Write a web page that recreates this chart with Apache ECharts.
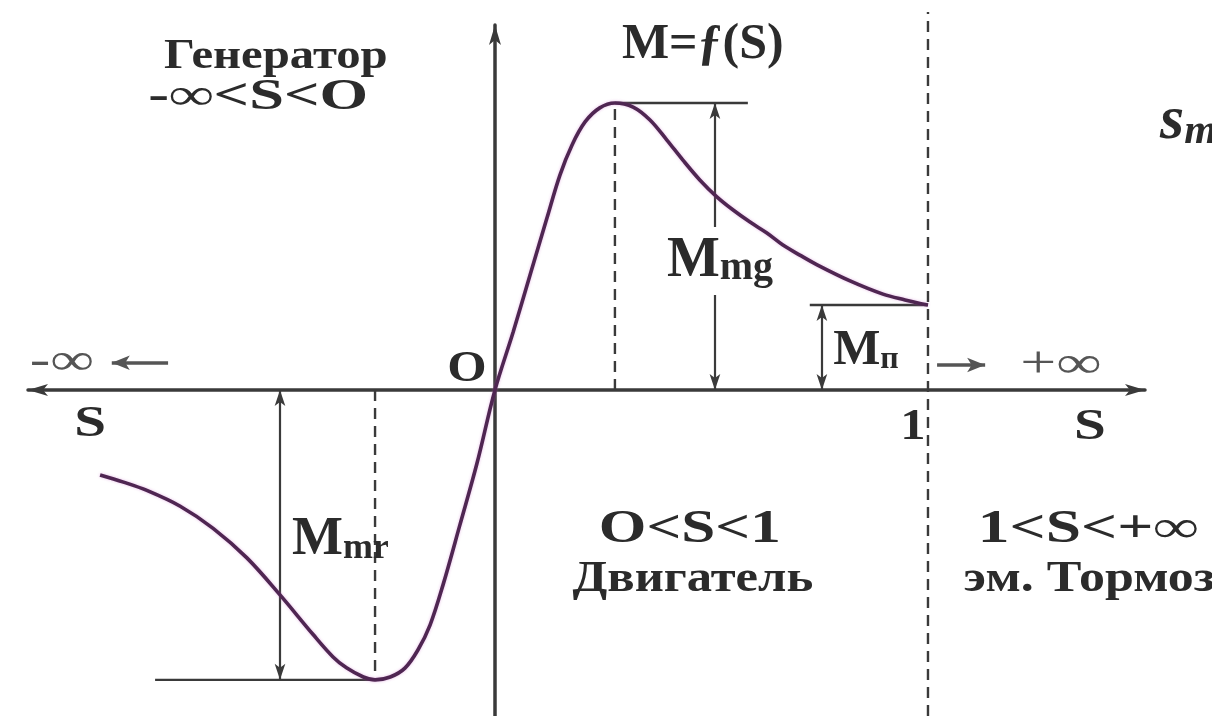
<!DOCTYPE html>
<html>
<head>
<meta charset="utf-8">
<script src="https://cdn.jsdelivr.net/npm/echarts@6/dist/echarts.min.js"></script>
<style>
  html, body { margin: 0; padding: 0; background: #ffffff; }
  #chart { width: 1212px; height: 716px; }
</style>
</head>
<body>
<div id="chart"></div>
<script>
// Torque–slip characteristic of an induction machine, M = f(S).
// Slip S along x (S = 1 is standstill), torque M relative to the motor peak.
const slip = [
  -0.912, -0.858, -0.804, -0.727, -0.651, -0.573, -0.497, -0.420, -0.374, -0.343, -0.304, -0.277,
  -0.242, -0.208, -0.178, -0.150, -0.120, -0.081, -0.042, 0,
  0.042, 0.081, 0.120, 0.150, 0.178, 0.208, 0.242, 0.277,
  0.319, 0.358, 0.397, 0.434, 0.473, 0.513, 0.550, 0.589, 0.628, 0.665, 0.704, 0.744,
  0.820, 0.896, 0.947, 1.0
];
const torque = [
  -0.296, -0.321, -0.350, -0.405, -0.482, -0.585, -0.713, -0.852, -0.930, -0.968, -1.0, -1.01,
  -1.0, -0.969, -0.906, -0.819, -0.679, -0.470, -0.258, 0,
  0.202, 0.401, 0.599, 0.749, 0.854, 0.934, 0.983, 1.0,
  0.986, 0.941, 0.871, 0.801, 0.732, 0.672, 0.627, 0.585, 0.547, 0.505, 0.470, 0.436,
  0.380, 0.334, 0.314, 0.296
];

// Characteristic points: critical slips, peak torques, starting torque
const critSlip = [-0.277, 0.277];      // generator / motor critical slip
const peakTorque = [-1.01, 1.0];       // M_mr (generator), M_mg (motor)
const startSlip = 1;
const startTorque = 0.296;             // M_п at S = 1

// Operating regions and other captions
const regionRanges = ['-∞<S<O', 'O<S<1', '1<S<+∞'];
const regionNames = ['Генератор', 'Двигатель', 'эм. Тормоз'];
const title = 'M=ƒ(S)';
const axisNames = ['S', 'S', 'O', '1'];
const infinity = ['-∞', '+∞'];

const FONT = '"Liberation Serif", "Times New Roman", serif';
const INK = '#2b2b2b';
const LINE = '#3a3a3a';
const CURVE = '#4f2652';

// axis extents (in S and relative-torque units)
const X_MIN = -1.0785, X_MAX = 1.5012;
const Y_MIN = -1.1359, Y_MAX = 1.2718;

function seg(points, style) {
  return {
    type: 'line', data: points, showSymbol: false, symbol: 'none', silent: true,
    clip: false, z: 3, animation: false,
    lineStyle: Object.assign({ color: LINE, width: 2.4 }, style)
  };
}

const dashed = { type: [11, 7], width: 2.4 };

const arrowLine = (x, y1, y2, s1, s2) => [
  { coord: [x, y1], symbol: s1 },
  { coord: [x, y2], symbol: s2 }
];

const option = {
  backgroundColor: '#ffffff',
  animation: false,
  grid: { left: 28, right: 67, top: 25, bottom: 0 },
  xAxis: {
    type: 'value', min: X_MIN, max: X_MAX,
    axisLine: { onZero: true, symbol: ['arrow', 'arrow'], symbolSize: [9, 20],
      lineStyle: { color: LINE, width: 3.5 } },
    axisTick: { show: false }, axisLabel: { show: false }, splitLine: { show: false }
  },
  yAxis: {
    type: 'value', min: Y_MIN, max: Y_MAX,
    axisLine: { onZero: true, symbol: ['none', 'arrow'], symbolSize: [9, 20],
      lineStyle: { color: LINE, width: 3.5 } },
    axisTick: { show: false }, axisLabel: { show: false }, splitLine: { show: false }
  },
  series: [
    // dashed verticals at the critical slips and at S = 1
    seg([[critSlip[1], 0], [critSlip[1], peakTorque[1]]], dashed),
    seg([[critSlip[0], 0], [critSlip[0], peakTorque[0]]], dashed),
    seg([[startSlip, Y_MIN], [startSlip, 1.317]], dashed),
    // horizontal guides at the peaks and at the starting torque
    seg([[critSlip[1], peakTorque[1]], [0.584, peakTorque[1]]], {}),
    seg([[-0.785, peakTorque[0]], [critSlip[0], peakTorque[0]]], {}),
    seg([[0.727, startTorque], [startSlip, startTorque]], {}),
    {
      type: 'line', name: 'M=f(S)',
      data: slip.map((s, i) => [s, torque[i]]),
      showSymbol: false, symbol: 'none', smooth: 0.35, z: 5, silent: true,
      lineStyle: { color: CURVE, width: 3.6, shadowColor: 'rgba(200,100,200,0.45)', shadowBlur: 3 },
      markLine: {
        silent: true, animation: false,
        symbolSize: [8, 16],
        label: { show: false },
        lineStyle: { type: 'solid', color: LINE, width: 2.2 },
        emphasis: { disabled: true },
        data: [
          arrowLine(0.508, peakTorque[1], 0.568, 'arrow', 'none'),
          arrowLine(0.508, 0.331, 0, 'none', 'arrow'),
          arrowLine(-0.4965, 0, peakTorque[0], 'arrow', 'arrow'),
          arrowLine(0.755, startTorque, 0, 'arrow', 'arrow'),
          [ { coord: [-0.755, 0.095], symbol: 'none', lineStyle: { width: 3.5, color: '#555' } },
            { coord: [-0.885, 0.095], symbol: 'arrow', symbolSize: [11, 18] } ],
          [ { coord: [1.021, 0.087], symbol: 'none', lineStyle: { width: 3.5, color: '#555' } },
            { coord: [1.132, 0.087], symbol: 'arrow', symbolSize: [11, 18] } ]
        ]
      }
    }
  ]
};

// Captions: anchor in data coordinates, converted through the axes
const subRich = (big, sub, italic) => ({
  big: { fontFamily: FONT, fontWeight: 'bold', fontStyle: italic ? 'italic' : 'normal', fontSize: big,
         fill: INK, lineHeight: big, verticalAlign: 'bottom' },
  sub: { fontFamily: FONT, fontWeight: 'bold', fontStyle: italic ? 'italic' : 'normal', fontSize: sub,
         fill: INK, lineHeight: sub, verticalAlign: 'bottom' }
});

const captions = [
  { text: regionNames[0], at: [-0.506, 1.160], size: 42, sx: 1.16 },
  { text: regionRanges[0], at: [-0.547, 1.017], size: 44, sx: 1.42 },
  { text: title, at: [0.480, 1.202], size: 50, sx: 1.0 },
  { text: axisNames[2], at: [-0.065, 0.070], size: 44, sx: 1.15 },
  { text: axisNames[0], at: [-0.935, -0.122], size: 44, sx: 1.3 },
  { text: axisNames[1], at: [1.374, -0.132], size: 44, sx: 1.3 },
  { text: axisNames[3], at: [0.965, -0.132], size: 44, sx: 1.15 },
  { text: infinity[0], at: [-1.0, 0.095], size: 44, sx: 1.4, weight: 'normal', color: '#555' },
  { text: infinity[1], at: [1.307, 0.087], size: 44, sx: 1.45, weight: 'normal', color: '#555' },
  { text: regionRanges[1], at: [0.450, -0.488], size: 46, sx: 1.33 },
  { text: regionNames[1], at: [0.457, -0.662], size: 44, sx: 1.15 },
  { text: regionRanges[2], at: [1.370, -0.488], size: 46, sx: 1.38 },
  { text: regionNames[2], at: [1.372, -0.662], size: 44, sx: 1.18 },
  { text: '{big|M}{sub|mg}', at: [0.397, 0.449], align: 'left', rich: subRich(56, 40) },
  { text: '{big|M}{sub|п}', at: [0.781, 0.136], align: 'left', rich: subRich(50, 32) },
  { text: '{big|M}{sub|mr}', at: [-0.469, -0.523], align: 'left', rich: subRich(54, 36) },
  { text: '{big|s}{sub|m}', at: [1.536, 0.934], align: 'left', rich: subRich(62, 42, true) }
];

const chart = echarts.init(document.getElementById('chart'));
chart.setOption(option);

function captionGraphics() {
  return captions.map(c => {
    const p = chart.convertToPixel({ gridIndex: 0 }, c.at);
    return {
      type: 'text', x: p[0], y: p[1], scaleX: c.sx || 1, silent: true, z: 100,
      style: {
        text: c.text, fill: c.color || INK, fontFamily: FONT,
        fontWeight: c.weight || 'bold', fontSize: c.size || 44,
        align: c.align || 'center', verticalAlign: 'middle',
        rich: c.rich
      }
    };
  });
}
chart.setOption({ graphic: captionGraphics() });
</script>
</body>
</html>
